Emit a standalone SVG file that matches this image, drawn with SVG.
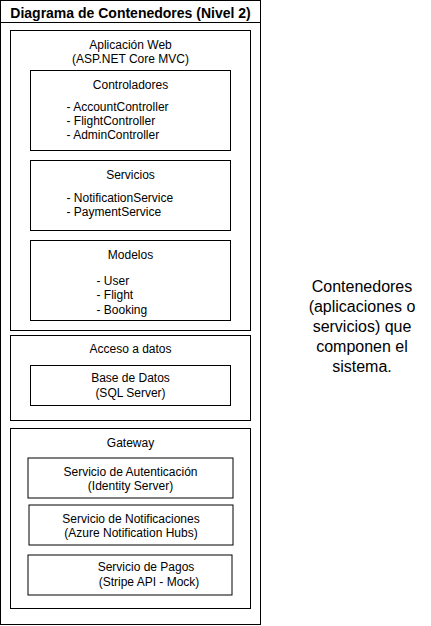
<svg xmlns="http://www.w3.org/2000/svg" width="431" height="626" viewBox="0 0 431 626">
<style>
  .box { fill: #fff; stroke: #000; stroke-width: 1; }
  .t { font-family: "Liberation Sans", Arial, sans-serif; font-size: 12px; fill: #000; }
  .c { text-anchor: middle; }
  .title { font-family: "Liberation Sans", Arial, sans-serif; font-size: 14px; font-weight: bold; fill: #000; text-anchor: middle; }
  .note { font-family: "Liberation Sans", Arial, sans-serif; font-size: 16px; fill: #000; text-anchor: middle; }
</style>
<rect width="431" height="626" fill="#fff"/>
<g id="diagram">
  <rect class="box" x="0.5" y="0.5" width="260" height="624"/>
  <line x1="0.5" y1="22.5" x2="260.5" y2="22.5" stroke="#000"/>
  <text class="title" x="130.5" y="18">Diagrama de Contenedores (Nivel 2)</text>
</g>
<g id="aplicacion-web">
  <rect class="box" x="10.5" y="30.5" width="240" height="300"/>
  <text class="t c" x="130.5" y="49">Aplicación Web</text>
  <text class="t c" x="130.5" y="63">(ASP.NET Core MVC)</text>
</g>
<g id="controladores">
  <rect class="box" x="30.5" y="70.5" width="200" height="80"/>
  <text class="t c" x="130.5" y="89">Controladores</text>
  <text class="t" x="66.5" y="111">- AccountController</text>
  <text class="t" x="66.5" y="125">- FlightController</text>
  <text class="t" x="66.5" y="139">- AdminController</text>
</g>
<g id="servicios">
  <rect class="box" x="30.5" y="160.5" width="200" height="70"/>
  <text class="t c" x="130.5" y="179">Servicios</text>
  <text class="t" x="66.5" y="202">- NotificationService</text>
  <text class="t" x="66.5" y="216">- PaymentService</text>
</g>
<g id="modelos">
  <rect class="box" x="30.5" y="240.5" width="200" height="80"/>
  <text class="t c" x="130.5" y="259">Modelos</text>
  <text class="t" x="96.5" y="285">- User</text>
  <text class="t" x="96.5" y="299">- Flight</text>
  <text class="t" x="96.5" y="313.5">- Booking</text>
</g>
<g id="acceso-datos">
  <rect class="box" x="10.5" y="335.5" width="240" height="85"/>
  <text class="t c" x="130.5" y="353">Acceso a datos</text>
</g>
<g id="base-datos">
  <rect class="box" x="30.5" y="365.5" width="200" height="40"/>
  <text class="t c" x="130.5" y="382">Base de Datos</text>
  <text class="t c" x="130.5" y="396.5">(SQL Server)</text>
</g>
<g id="gateway">
  <rect class="box" x="10.5" y="428.5" width="240" height="180"/>
  <text class="t c" x="130.5" y="446.5">Gateway</text>
</g>
<g id="autenticacion">
  <rect class="box" x="28" y="458" width="205" height="40"/>
  <text class="t c" x="130.5" y="475.5">Servicio de Autenticación</text>
  <text class="t c" x="130.5" y="489.5">(Identity Server)</text>
</g>
<g id="notificaciones">
  <rect class="box" x="29" y="505" width="204" height="40"/>
  <text class="t c" x="131" y="522.5">Servicio de Notificaciones</text>
  <text class="t c" x="131" y="536.5">(Azure Notification Hubs)</text>
</g>
<g id="pagos">
  <rect class="box" x="28" y="555" width="204" height="40"/>
  <text class="t c" x="146" y="571">Servicio de Pagos</text>
  <text class="t c" x="149" y="585.5">(Stripe API - Mock)</text>
</g>
<g id="connectors"/>
<g id="nota">
  <text class="note" x="362" y="291.5">Contenedores</text>
  <text class="note" x="362" y="311.5">(aplicaciones o</text>
  <text class="note" x="362" y="331.5">servicios) que</text>
  <text class="note" x="362" y="351.5">componen el</text>
  <text class="note" x="362" y="371.5">sistema.</text>
</g>
</svg>
